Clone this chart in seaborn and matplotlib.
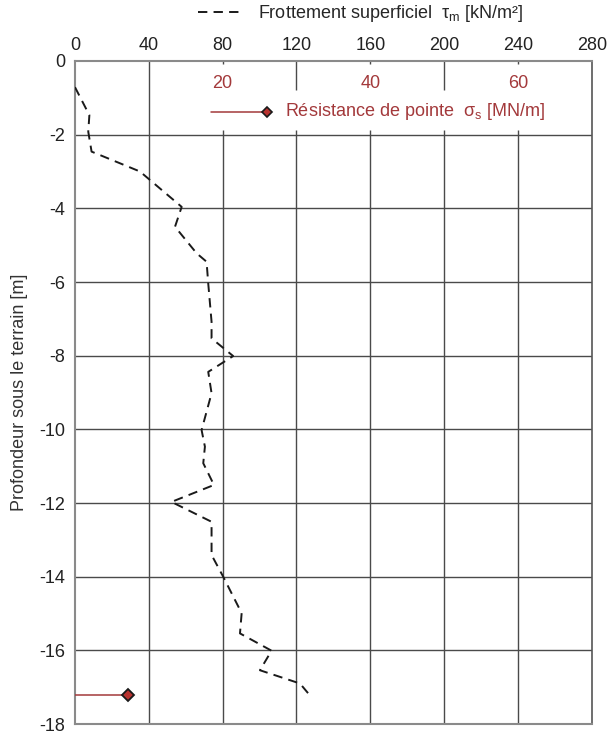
import numpy as np
import pandas as pd
import matplotlib
matplotlib.use("Agg")
import matplotlib.pyplot as plt
import seaborn as sns

# Frottement superficiel tau_m [kN/m2] vs profondeur [m]
depth = [-0.71, -1.47, -1.92, -2.46, -3.0, -3.96, -4.5, -5.22, -5.45, -6.04,
         -7.08, -7.53, -8.01, -8.44, -9.02, -10.02, -10.47, -10.92, -11.51,
         -11.97, -12.51, -13.41, -14.0, -14.99, -15.54, -16.01, -16.54,
         -16.9, -17.17]
friction = [0.0, 7.8, 7.2, 9.0, 35.2, 57.8, 54.2, 65.9, 71.3, 72.2,
            74.0, 74.0, 85.7, 72.2, 74.0, 68.6, 70.4, 69.5, 75.3,
            52.3, 74.0, 74.0, 80.3, 90.3, 89.4, 106.5, 100.2,
            121.9, 126.4]

# Résistance de pointe sigma_s [MN/m]
tip_depth = [-17.2, -17.2]
tip_resist = [0.0, 7.2]

top_ticks = [0, 40, 80, 120, 160, 200, 240, 280]
depth_ticks = [0, -2, -4, -6, -8, -10, -12, -14, -16, -18]
sec_ticks = [20, 40, 60]
SCALE = 4.0  # 1 MN/m on the secondary scale = 4 kN/m2 on the primary scale

RED = "#A3393B"
GRID = "#4a4a4a"
FS = 13

sns.set_style("white")
plt.rcParams["font.family"] = ["Liberation Sans", "DejaVu Sans"]
plt.rcParams["mathtext.fontset"] = "custom"
plt.rcParams["mathtext.rm"] = "Liberation Sans"
plt.rcParams["mathtext.it"] = "Liberation Sans"
plt.rcParams["axes.unicode_minus"] = False

fig = plt.figure(figsize=(6.12, 7.34), dpi=100)
ax = fig.add_axes([0.1225, 0.0136, 0.967 - 0.1225, 0.9169 - 0.0136])

ax.set_xlim(0, 280)
ax.set_ylim(-18, 0)

# grid: horizontal lines full width
for d in depth_ticks[1:-1]:
    ax.axhline(d, color=GRID, lw=1.0, zorder=1)

# vertical lines, with the inner legend zone left blank
gap_top, gap_bot = -0.78, -1.87
for t in top_ticks[1:-1]:
    if t == 40:
        ax.axvline(t, color=GRID, lw=1.0, zorder=1)
    elif t in (120, 200):
        ax.vlines(t, gap_top, 0, color=GRID, lw=1.0, zorder=1)
        ax.vlines(t, -18, gap_bot, color=GRID, lw=1.0, zorder=1)
    else:
        ax.vlines(t, -18, gap_bot, color=GRID, lw=1.0, zorder=1)
        ax.vlines(t, -0.07, 0, color=GRID, lw=1.0, zorder=1)

df = pd.DataFrame({"depth": depth, "friction": friction})
sns.lineplot(data=df, x="friction", y="depth", sort=False, estimator=None,
             color="#1a1a1a", lw=1.4, ax=ax, zorder=3,
             label="Frottement superficiel  τ$_\\mathregular{m}$ [kN/m²]")
ax.lines[-1].set_dashes((4.8, 3.2))

tip = pd.DataFrame({"depth": tip_depth, "resist": np.array(tip_resist) * SCALE})
sns.lineplot(data=tip, x="resist", y="depth", sort=False, estimator=None,
             color=RED, lw=1.1, ax=ax, zorder=4, legend=False)
ax.plot(tip["resist"].iloc[-1], tip["depth"].iloc[-1], marker="D", ms=6.5,
        mfc="#B8322F", mec="#1a1a1a", mew=1.3, zorder=5, clip_on=False)

# secondary scale labels inside the plot
for v in sec_ticks:
    ax.text(v * SCALE, -0.62, str(v), color=RED, fontsize=FS,
            ha="center", va="center", zorder=6)

# red legend (manual, marker at the right end of the sample)
ax.plot([73.5, 104], [-1.38, -1.38], color=RED, lw=1.1, zorder=6)
ax.plot([104], [-1.38], marker="D", ms=5.5, mfc="#B8322F", mec="#1a1a1a",
        mew=1.2, zorder=7)
ax.text(114, -1.38, "Résistance de pointe  σ$_\\mathregular{s}$ [MN/m]",
        color=RED, fontsize=FS, ha="left", va="center", zorder=7)

# top axis
ax.xaxis.tick_top()
ax.set_xticks(top_ticks)
ax.set_yticks(depth_ticks)
ax.tick_params(axis="x", length=0, pad=5, labelsize=FS, colors="#222222")
ax.tick_params(axis="y", length=0, pad=7, labelsize=FS, colors="#222222")
ax.set_xlabel("")
ax.set_ylabel("Profondeur sous le terrain [m]", fontsize=FS, color="#333333",
              labelpad=8)

for side in ["left", "top", "bottom"]:
    ax.spines[side].set_color("#8a8a8a")
    ax.spines[side].set_linewidth(1.5)
ax.spines["right"].set_color("#555555")
ax.spines["right"].set_linewidth(1.2)

leg = ax.legend(loc="center left", bbox_to_anchor=(0.238, 1.071),
                frameon=False, fontsize=FS, handlelength=2.3,
                handletextpad=1.0, borderaxespad=0, borderpad=0)

fig.savefig("out.png", dpi=100)
